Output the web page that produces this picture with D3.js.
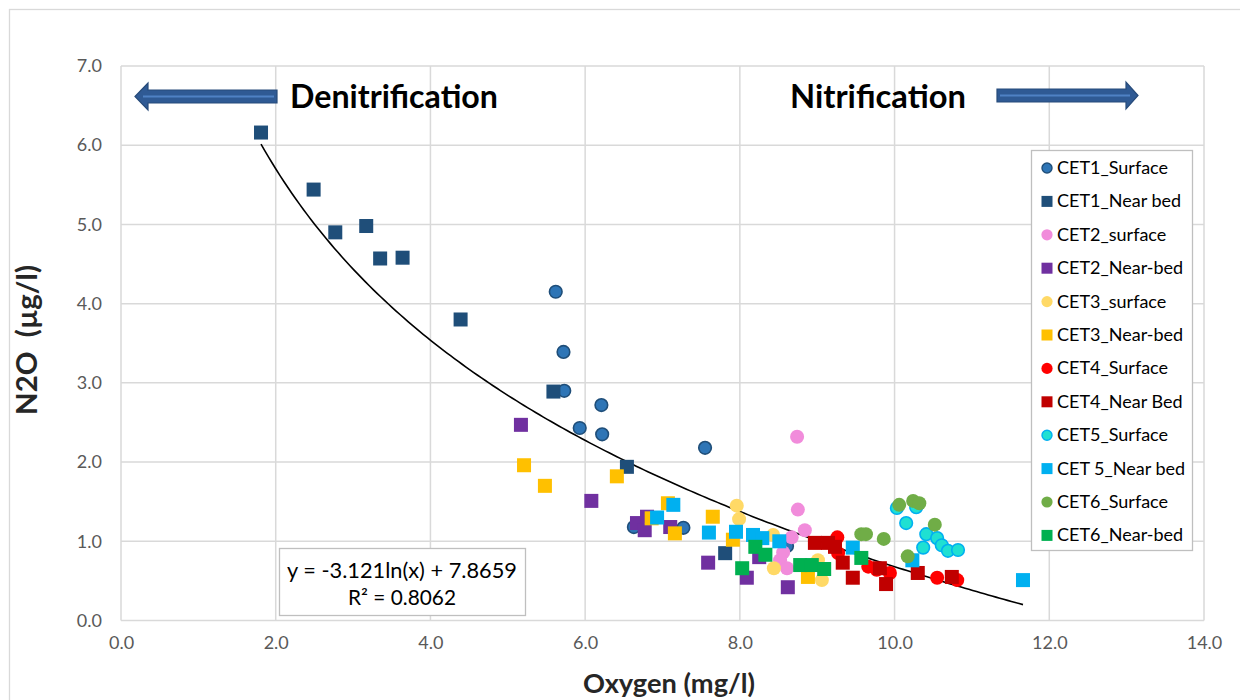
<!DOCTYPE html>
<html><head><meta charset="utf-8">
<script src="https://cdn.jsdelivr.net/npm/d3@7"></script>
<style>body{margin:0;background:#fff}svg{display:block}text{font-family:Lato,"Open Sans",sans-serif}</style>
</head><body><svg id="c" width="1240" height="700"></svg>
<script>
// ---- data ----
const xTicks = [0,2,4,6,8,10,12,14];
const yTicks = [0,1,2,3,4,5,6,7];
const seriesNames = ["CET1_Surface","CET1_Near bed","CET2_surface","CET2_Near-bed","CET3_surface","CET3_Near-bed","CET4_Surface","CET4_Near Bed","CET5_Surface","CET 5_Near bed","CET6_Surface","CET6_Near-bed"];
const seriesShapes = ["circle","square","circle","square","circle","square","circle","square","circle","square","circle","square"];
const cet1Surface = [[5.62,4.15],[5.72,3.39],[5.73,2.90],[6.21,2.72],[5.93,2.43],[6.22,2.35],[7.55,2.18],[6.63,1.18],[7.27,1.17],[8.61,0.94]];
const cet1NearBed = [[1.81,6.16],[2.49,5.44],[2.77,4.90],[3.17,4.98],[3.35,4.57],[3.64,4.58],[4.39,3.80],[5.59,2.89],[6.54,1.94],[7.81,0.85]];
const cet2Surface = [[8.74,2.32],[8.75,1.40],[8.84,1.14],[8.67,1.05],[8.56,0.86],[8.52,0.76],[8.61,0.66]];
const cet2NearBed = [[5.17,2.47],[6.08,1.51],[6.67,1.23],[6.80,1.31],[6.77,1.14],[7.10,1.18],[7.59,0.73],[8.09,0.54],[8.62,0.42],[8.25,0.80]];
const cet3Surface = [[7.96,1.45],[7.99,1.28],[8.43,1.08],[8.44,0.66],[9.01,0.76],[9.06,0.51]];
const cet3NearBed = [[5.21,1.96],[5.48,1.70],[6.41,1.82],[7.07,1.48],[7.16,1.10],[7.65,1.31],[7.91,1.02],[8.88,0.55],[6.86,1.29]];
const cet4Surface = [[9.26,1.05],[9.27,0.85],[9.66,0.68],[9.77,0.64],[9.94,0.60],[10.55,0.54],[10.81,0.51]];
const cet4NearBed = [[8.97,0.98],[9.14,0.98],[9.23,0.93],[9.33,0.73],[9.46,0.54],[9.81,0.66],[9.89,0.46],[10.30,0.60],[10.74,0.55]];
const cet5Surface = [[10.03,1.42],[10.28,1.43],[10.15,1.23],[10.41,1.09],[10.37,0.92],[10.55,1.04],[10.61,0.95],[10.69,0.88],[10.82,0.89]];
const cet5NearBed = [[7.14,1.46],[6.93,1.30],[7.60,1.11],[7.95,1.12],[8.17,1.08],[8.29,1.04],[8.51,1.00],[9.46,0.92],[10.23,0.76],[11.66,0.51]];
const cet6Surface = [[10.06,1.46],[10.24,1.51],[10.32,1.48],[10.52,1.21],[9.57,1.09],[9.63,1.09],[9.86,1.03],[10.17,0.81]];
const cet6NearBed = [[8.20,0.93],[8.33,0.83],[8.03,0.66],[8.78,0.70],[8.93,0.70],[9.09,0.65],[9.57,0.79]];
const trendCoef = [-3.121, 7.8659];   // y = a ln(x) + b
const trendRange = [1.81, 11.66];
const equationLines = ["y = -3.121ln(x) + 7.8659", "R² = 0.8062"];

// ---- styles ----
const fills   = ["#2E75B6","#1F4E79","#F18CDB","#7030A0","#FFD966","#FFC000","#FF0000","#C00000","#1FE0D2","#00B0F0","#70AD47","#00B050"];
const strokes = ["#1F4E79",null,null,null,null,null,null,null,"#00B0F0",null,null,null];
const allData = [cet1Surface,cet1NearBed,cet2Surface,cet2NearBed,cet3Surface,cet3NearBed,cet4Surface,cet4NearBed,cet5Surface,cet5NearBed,cet6Surface,cet6NearBed];

const svg = d3.select("#c");
const x = d3.scaleLinear().domain([0,14]).range([121,1204]);
const y = d3.scaleLinear().domain([0,7]).range([620.5,66]);

// fit a text element's font size to a target width
function fit(sel, base, target){
  sel.style("font-size", base+"px");
  const w = sel.node().getComputedTextLength();
  if (w>0) sel.style("font-size", (base*target/w).toFixed(2)+"px");
  return sel;
}

// outer border
svg.append("rect").attr("x",9.5).attr("y",9.5).attr("width",1240).attr("height",700)
  .attr("fill","#fff").attr("stroke","#D9D9D9").attr("stroke-width",1.3);

// gridlines
const g = svg.append("g");
g.selectAll(".vx").data(xTicks).join("line")
  .attr("x1",d=>x(d)).attr("x2",d=>x(d)).attr("y1",y(0)).attr("y2",y(7))
  .attr("stroke","#D9D9D9").attr("stroke-width",1.5);
g.selectAll(".hy").data(yTicks).join("line")
  .attr("y1",d=>y(d)).attr("y2",d=>y(d)).attr("x1",x(0)).attr("x2",x(14))
  .attr("stroke","#D9D9D9").attr("stroke-width",1.5);

// axes via d3 axes (labels only)
const xa = svg.append("g").attr("transform",`translate(0,${y(0)})`)
  .call(d3.axisBottom(x).tickValues(xTicks).tickFormat(d3.format(".1f")).tickSize(0).tickPadding(16));
const ya = svg.append("g").attr("transform",`translate(${x(0)},0)`)
  .call(d3.axisLeft(y).tickValues(yTicks).tickFormat(d3.format(".1f")).tickSize(0).tickPadding(19));
[xa,ya].forEach(a=>{a.select(".domain").remove();
  a.selectAll("text").attr("fill","#595959").style("font-size","18px").style("font-family","Lato, sans-serif");});

// axis titles
fit(svg.append("text").attr("x",669).attr("y",693).attr("text-anchor","middle")
  .style("font-weight","bold").attr("fill","#262626").text("Oxygen (mg/l)"), 22, 172);
fit(svg.append("text").attr("transform","translate(37,340) rotate(-90)").attr("text-anchor","middle")
  .style("font-weight","bold").attr("fill","#262626").attr("xml:space","preserve").text("N2O  (µg/l)"), 22, 150);

// trendline
const tx = d3.range(trendRange[0], trendRange[1], 0.05).concat([trendRange[1]]);
svg.append("path").datum(tx).attr("fill","none").attr("stroke","#000").attr("stroke-width",1.6)
  .attr("d", d3.line().x(d=>x(d)).y(d=>y(trendCoef[0]*Math.log(d)+trendCoef[1])));

// points
allData.forEach((arr,i)=>{
  const gg = svg.append("g");
  if (seriesShapes[i]==="circle") {
    gg.selectAll("circle").data(arr).join("circle")
      .attr("cx",d=>x(d[0])).attr("cy",d=>y(d[1])).attr("r", strokes[i]?6.3:7)
      .attr("fill",fills[i]).attr("stroke",strokes[i]||"none").attr("stroke-width",strokes[i]?1.6:0);
  } else {
    gg.selectAll("rect").data(arr).join("rect")
      .attr("x",d=>x(d[0])-7).attr("y",d=>y(d[1])-7).attr("width",14).attr("height",14)
      .attr("fill",fills[i]);
  }
});

// equation box
svg.append("rect").attr("x",279.5).attr("y",548.5).attr("width",246).attr("height",67)
  .attr("fill","#fff").attr("stroke","#BFBFBF").attr("stroke-width",1.3);
const eqW = [230,108];
equationLines.forEach((t,i)=>fit(svg.append("text").attr("x",402).attr("y",578+i*27).attr("text-anchor","middle")
  .attr("fill","#000").text(t), 19, eqW[i]));

// legend
const lg = svg.append("g");
lg.append("rect").attr("x",1031.5).attr("y",150.5).attr("width",161).attr("height",400)
  .attr("fill","#fff").attr("stroke","#BFBFBF").attr("stroke-width",1.3);
seriesNames.forEach((n,i)=>{
  const cy = 168 + i*33.4;
  if (seriesShapes[i]==="circle") {
    lg.append("circle").attr("cx",1047).attr("cy",cy).attr("r",strokes[i]?5:5.6)
      .attr("fill",fills[i]).attr("stroke",strokes[i]||"none").attr("stroke-width",strokes[i]?1.4:0);
  } else {
    lg.append("rect").attr("x",1041.5).attr("y",cy-5.5).attr("width",11).attr("height",11).attr("fill",fills[i]);
  }
  lg.append("text").attr("x",1057).attr("y",cy+6).style("font-size","18px").attr("fill","#000").attr("xml:space","preserve").text(n);
});

// annotations
fit(svg.append("text").attr("x",290).attr("y",108).style("font-weight","bold").attr("fill","#000").text("Denitrification"), 28, 208);
fit(svg.append("text").attr("x",790).attr("y",108).style("font-weight","bold").attr("fill","#000").text("Nitrification"), 28, 176);

function arrow(tipX, baseX, headX, cyy, dir){
  const p = d3.path();
  p.moveTo(tipX, cyy);
  p.lineTo(headX, cyy-13.5); p.lineTo(headX, cyy-6.5); p.lineTo(baseX, cyy-6.5);
  p.lineTo(baseX, cyy+6.5); p.lineTo(headX, cyy+6.5); p.lineTo(headX, cyy+13.5); p.closePath();
  svg.append("path").attr("d",p.toString()).attr("fill","#2F5A94").attr("stroke","#274B7A").attr("stroke-width",1.2);
  svg.append("line").attr("x1",tipX+dir*8).attr("x2",baseX-dir*3).attr("y1",cyy).attr("y2",cyy)
    .attr("stroke","#4F81C4").attr("stroke-width",2);
}
arrow(135, 277, 148, 96.5, 1);
arrow(1138, 997, 1126, 95.5, -1);
</script></body></html>
